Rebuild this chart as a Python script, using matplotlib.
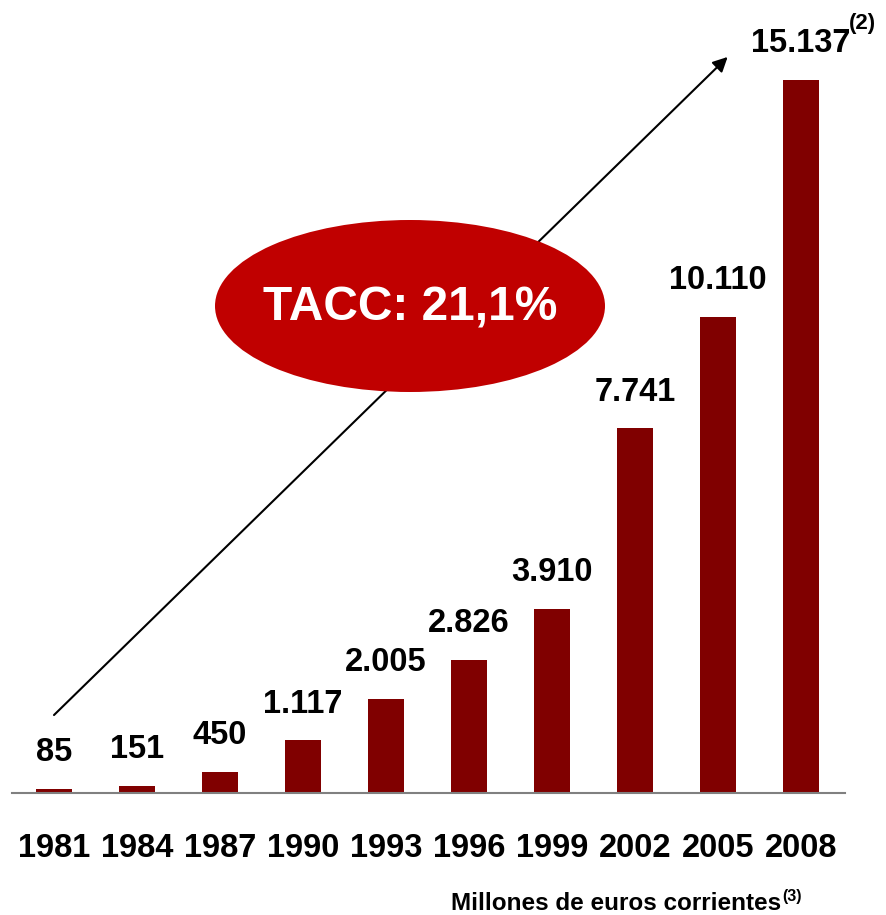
import matplotlib
matplotlib.use("Agg")
import matplotlib.pyplot as plt
from matplotlib.patches import Ellipse

years = ['1981', '1984', '1987', '1990', '1993', '1996', '1999', '2002', '2005', '2008']
values = [85, 151, 450, 1117, 2005, 2826, 3910, 7741, 10110, 15137]
labels = ['85', '151', '450', '1.117', '2.005', '2.826', '3.910', '7.741', '10.110', '15.137']

plt.rcParams['font.family'] = ['Liberation Sans', 'DejaVu Sans']

W, H = 887, 915
fig = plt.figure(figsize=(W / 100, H / 100), dpi=100)
ax = fig.add_axes([12 / W, (H - 793) / H, (845 - 12) / W, 793 / H])

x = list(range(len(years)))
ax.bar(x, values, width=0.43, color='#800000', zorder=2)
ax.set_xlim(-0.506, 9.53)
ax.set_ylim(0, 16837)

for xi, v, lab in zip(x, values, labels):
    ax.annotate(lab, (xi, v), xytext=(0, 26), textcoords='offset points',
                ha='center', va='center', fontsize=23.5, fontweight='bold')

ax.set_xticks(x)
ax.set_xticklabels(years, fontsize=23.5, fontweight='bold')
ax.tick_params(axis='x', length=0, pad=29)
ax.set_yticks([])
for s in ['top', 'right', 'left']:
    ax.spines[s].set_visible(False)
ax.spines['bottom'].set_color('#808080')
ax.spines['bottom'].set_linewidth(1.5)

# growth arrow
ax.annotate('', xy=(8.14, 15669), xytext=(-0.024, 1614),
            arrowprops=dict(arrowstyle='-|>', color='black', lw=1.5,
                            mutation_scale=22), zorder=3)

# TACC ellipse
ell = Ellipse((410 / W, 1 - 306 / H), 390 / W, 172 / H, transform=fig.transFigure,
              facecolor='#C00000', edgecolor='none', zorder=5)
fig.patches.append(ell)
fig.text(410 / W, 1 - 308 / H, 'TACC: 21,1%', color='white', fontsize=34.5,
         fontweight='bold', ha='center', va='center', zorder=6)

fig.text(849 / W, 1 - 24 / H, '(2)', fontsize=16, fontweight='bold', ha='left', va='center')
fig.text(781 / W, 1 - 903 / H, 'Millones de euros corrientes', fontsize=17.5,
         fontweight='bold', ha='right', va='center')
fig.text(782 / W, 1 - 897 / H, '(3)', fontsize=11.5, fontweight='bold', ha='left', va='center')

fig.savefig('out.png', dpi=100)
